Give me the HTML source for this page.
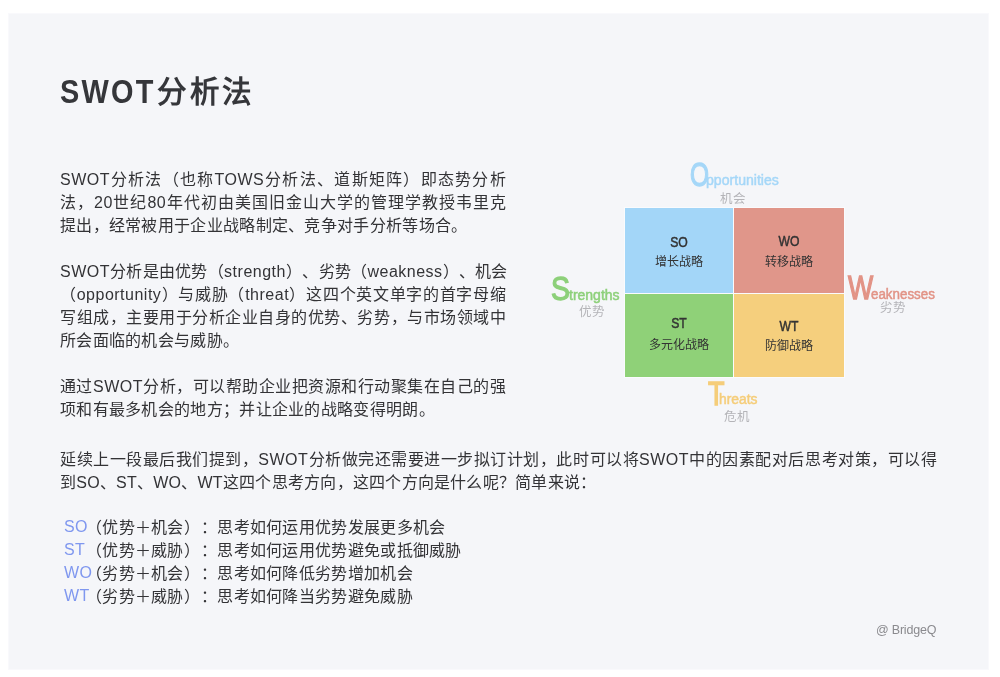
<!DOCTYPE html>
<html lang="zh-CN">
<head>
<meta charset="utf-8">
<style>
html,body{margin:0;padding:0;background:#ffffff;width:1000px;height:677px;overflow:hidden;}
body{font-family:"Liberation Sans",sans-serif;position:relative;}
.wrap{position:absolute;left:0;top:0;width:1000px;height:677px;will-change:transform;}
.card{position:absolute;left:9px;top:14px;width:979px;height:655px;background:#f5f6f9;}
.t{position:absolute;left:60px;white-space:nowrap;color:#333336;font-size:16px;line-height:23px;letter-spacing:0.3px;}
.j{text-align:justify;text-align-last:justify;}
.l{letter-spacing:0.5px}
.t,.li{text-spacing-trim:space-all;}
.title{position:absolute;font-weight:bold;color:#35363a;white-space:nowrap;line-height:40px;}
.cell{position:absolute;}
.ct{position:absolute;left:0;width:100%;text-align:center;color:#333;white-space:nowrap;}
.lb{font-size:14.5px;line-height:16px;-webkit-text-stroke:0.5px #333;transform:scaleX(0.84);}
.sb{font-size:12px;line-height:16px;letter-spacing:0.1px}
.big{position:absolute;white-space:nowrap;font-weight:normal;-webkit-text-stroke:1.3px currentColor;font-size:30px;line-height:30px;transform-origin:0 0;}
.sm{position:absolute;white-space:nowrap;font-weight:normal;-webkit-text-stroke:0.5px currentColor;line-height:20px;transform-origin:0 0;}
.sub{position:absolute;white-space:nowrap;color:#b4b4b8;font-size:12.5px;line-height:14px;}
.li{position:absolute;left:64px;white-space:nowrap;color:#333336;font-size:16px;line-height:23px;letter-spacing:0.3px;}
.li b{font-weight:normal;color:#7f97ef;position:absolute;left:0;top:-1px;}
.li span{position:absolute;}
.pa{left:22px}
.pb{left:137px}
</style>
</head>
<body>
<div class="card" style="left:8px;top:13px;width:981px;height:657px;background:#f9f9fc"></div>
<div class="card"></div>
<div class="wrap">
<div class="title" style="left:60px;top:71px"><span style="display:inline-block;font-size:34px;letter-spacing:2.6px;transform:scaleX(0.85);transform-origin:0 0;">SWOT</span></div>
<div class="title" style="left:157px;top:72px;font-size:29.5px;letter-spacing:2.5px">分析法</div>

<div class="t j" style="top:168px;width:446px"><span class="l">SWOT</span>分析法（也称<span class="l">TOWS</span>分析法、道斯矩阵）即态势分析</div>
<div class="t j" style="top:191px;width:446px">法，<span class="l">20</span>世纪<span class="l">80</span>年代初由美国旧金山大学的管理学教授韦里克</div>
<div class="t" style="top:214px">提出，经常被用于企业战略制定、竞争对手分析等场合。</div>

<div class="t j" style="top:260px;width:446px"><span class="l">SWOT</span>分析是由优势（<span class="l">strength</span>）、劣势（<span class="l">weakness</span>）、机会</div>
<div class="t j" style="top:283px;width:446px">（<span class="l">opportunity</span>）与威胁（<span class="l">threat</span>）这四个英文单字的首字母缩</div>
<div class="t j" style="top:306px;width:446px">写组成，主要用于分析企业自身的优势、劣势，与市场领域中</div>
<div class="t" style="top:329px">所会面临的机会与威胁。</div>

<div class="t j" style="top:375px;width:446px">通过<span class="l">SWOT</span>分析，可以帮助企业把资源和行动聚集在自己的强</div>
<div class="t" style="top:398px">项和有最多机会的地方；并让企业的战略变得明朗。</div>

<div class="t j" style="top:448px;width:877px">延续上一段最后我们提到，<span class="l">SWOT</span>分析做完还需要进一步拟订计划，此时可以将<span class="l">SWOT</span>中的因素配对后思考对策，可以得</div>
<div class="t" style="top:471px;letter-spacing:0.24px">到SO、ST、WO、WT这四个思考方向，这四个方向是什么呢？简单来说：</div>

<div class="li" style="top:516px"><b>SO</b><span class="pa">（优势＋机会）</span><span class="pb">：思考如何运用优势发展更多机会</span></div>
<div class="li" style="top:539px"><b>ST</b><span class="pa">（优势＋威胁）</span><span class="pb">：思考如何运用优势避免或抵御威胁</span></div>
<div class="li" style="top:562px"><b>WO</b><span class="pa">（劣势＋机会）</span><span class="pb">：思考如何降低劣势增加机会</span></div>
<div class="li" style="top:585px"><b>WT</b><span class="pa">（劣势＋威胁）</span><span class="pb">：思考如何降当劣势避免威胁</span></div>

<!-- diagram -->
<div class="cell" style="left:624px;top:207px;width:221px;height:171px;background:#fafbfd"></div>
<div class="cell" style="left:625px;top:208px;width:108px;height:85px;background:#a3d6f8"></div>
<div class="cell" style="left:734px;top:208px;width:110px;height:85px;background:#e0968a"></div>
<div class="cell" style="left:625px;top:294px;width:108px;height:83px;background:#8fd178"></div>
<div class="cell" style="left:734px;top:294px;width:110px;height:83px;background:#f5cf7d"></div>

<div class="ct lb" style="left:625px;width:108px;top:233.5px">SO</div>
<div class="ct sb" style="left:625px;width:108px;top:253.5px">增长战略</div>
<div class="ct lb" style="left:734px;width:110px;top:233px">WO</div>
<div class="ct sb" style="left:734px;width:110px;top:253.5px">转移战略</div>
<div class="ct lb" style="left:625px;width:108px;top:315px">ST</div>
<div class="ct sb" style="left:625px;width:108px;top:337px">多元化战略</div>
<div class="ct lb" style="left:734px;width:110px;top:317.5px">WT</div>
<div class="ct sb" style="left:734px;width:110px;top:338px">防御战略</div>

<div class="big" style="left:690px;top:160px;color:#a5d7f8;font-size:33px;transform:scaleX(0.74)">O</div>
<div class="sm" style="left:706px;top:170px;color:#a5d7f8;font-size:15px;transform:scaleX(0.94)">pportunities</div>
<div class="sub" style="left:720px;top:191.5px">机会</div>
<div class="big" style="left:551px;top:273.5px;color:#8dd07a;font-size:33px;transform:scaleX(0.86)">S</div>
<div class="sm" style="left:569px;top:285px;color:#8dd07a;font-size:14px;transform:scaleX(1)">trengths</div>
<div class="sub" style="left:579px;top:305px">优势</div>
<div class="big" style="left:848px;top:273px;color:#e29386;font-size:33px;transform:scaleX(0.81)">W</div>
<div class="sm" style="left:871px;top:283.5px;color:#e29386;font-size:14px;transform:scaleX(0.955)">eaknesses</div>
<div class="sub" style="left:880px;top:300.5px">劣势</div>
<div class="big" style="left:708px;top:379px;color:#f5cd7a;font-size:33px;transform:scaleX(0.82)">T</div>
<div class="sm" style="left:719px;top:389px;color:#f5cd7a;font-size:14px;transform:scaleX(0.99)">hreats</div>
<div class="sub" style="left:724px;top:410px">危机</div>

<div class="t" style="left:876px;top:622px;font-size:12.5px;color:#8a8a8e;line-height:16px;letter-spacing:-0.2px">@ BridgeQ</div>
</div>
</body>
</html>
